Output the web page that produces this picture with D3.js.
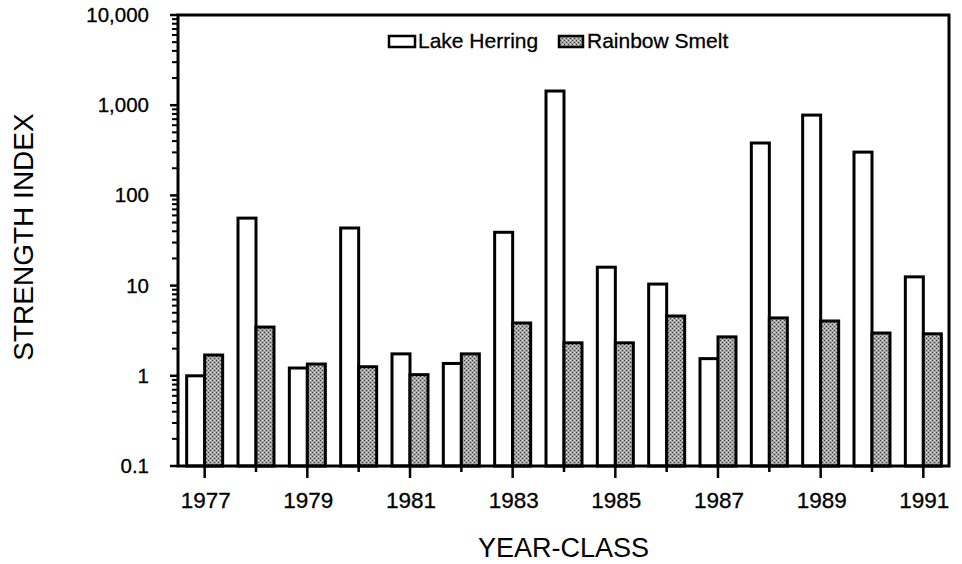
<!DOCTYPE html>
<html><head><meta charset="utf-8">
<script src="https://cdn.jsdelivr.net/npm/d3@7"></script>
<style>body{margin:0;background:#fff}svg{display:block}text{font-family:"Liberation Sans",Arial,Helvetica,sans-serif;fill:#000}</style>
</head><body><svg id="c" width="962" height="564"></svg>
<script>
const years = [1977,1978,1979,1980,1981,1982,1983,1984,1985,1986,1987,1988,1989,1990,1991];
const lakeHerring = [1.0,56,1.22,43.5,1.75,1.37,39,1436,16,10.4,1.55,381,777,302,12.5];
const rainbowSmelt = [1.7,3.47,1.35,1.26,1.03,1.75,3.85,2.32,2.32,4.6,2.7,4.38,4.05,2.98,2.92];
const seriesNames = ["Lake Herring","Rainbow Smelt"];
const yTickValues = [0.1,1,10,100,1000,10000];
const yTickLabels = ["0.1","1","10","100","1,000","10,000"];
const xLabelYears = [1977,1979,1981,1983,1985,1987,1989,1991];

const svg = d3.select("#c");
const L=178, R=949, T=15, B=466;
const x = d3.scaleBand().domain(years).range([L+1, R]).padding(0);
const y = d3.scaleLog().domain([0.1,10000]).range([B,T]);

// stipple pattern for smelt
const defs = svg.append("defs");
const pat = defs.append("pattern").attr("id","stip").attr("width",4).attr("height",4).attr("patternUnits","userSpaceOnUse");
pat.append("rect").attr("width",4).attr("height",4).attr("fill","#a4a4a4");
pat.append("rect").attr("x",0).attr("y",0).attr("width",1).attr("height",1).attr("fill","#3a3a3a");
pat.append("rect").attr("x",2).attr("y",2).attr("width",1).attr("height",1).attr("fill","#3a3a3a");
pat.append("rect").attr("x",2).attr("y",0).attr("width",1).attr("height",1).attr("fill","#e6e6e6");
pat.append("rect").attr("x",0).attr("y",2).attr("width",1).attr("height",1).attr("fill","#d0d0d0");

const bw = 18;
const g = svg.append("g");
g.selectAll("rect.h").data(years).join("rect").attr("class","h")
  .attr("x", d => x(d)+x.bandwidth()/2 - bw)
  .attr("y", (d,i) => y(lakeHerring[i]))
  .attr("width", bw)
  .attr("height", (d,i) => B - y(lakeHerring[i]))
  .attr("fill","#fff").attr("stroke","#000").attr("stroke-width",3);
g.selectAll("rect.s").data(years).join("rect").attr("class","s")
  .attr("x", d => x(d)+x.bandwidth()/2)
  .attr("y", (d,i) => y(rainbowSmelt[i]))
  .attr("width", bw)
  .attr("height", (d,i) => B - y(rainbowSmelt[i]))
  .attr("fill","url(#stip)").attr("stroke","#000").attr("stroke-width",3);

// frame
svg.append("rect").attr("x",L).attr("y",T).attr("width",R-L).attr("height",B-T)
  .attr("fill","none").attr("stroke","#000").attr("stroke-width",3);

// y axis ticks (minor + major)
const minor = [];
for (let e=-1;e<4;e++) for (let m=2;m<=9;m++) minor.push(m*Math.pow(10,e));
svg.append("g").selectAll("line").data(minor).join("line")
  .attr("x1",L-6).attr("x2",L).attr("y1",d=>y(d)).attr("y2",d=>y(d))
  .attr("stroke","#000").attr("stroke-width",2);
svg.append("g").selectAll("line").data(yTickValues).join("line")
  .attr("x1",L-8).attr("x2",L).attr("y1",d=>y(d)).attr("y2",d=>y(d))
  .attr("stroke","#000").attr("stroke-width",2.5);
svg.append("g").selectAll("text").data(yTickValues).join("text")
  .attr("x",149).attr("y",d=>y(d)+7).attr("text-anchor","end")
  .attr("font-size",20.5).attr("stroke","#000").attr("stroke-width",0.3).text((d,i)=>yTickLabels[i]);

// x axis ticks
svg.append("g").selectAll("line").data(years).join("line")
  .attr("x1",d=>x(d)+x.bandwidth()/2).attr("x2",d=>x(d)+x.bandwidth()/2)
  .attr("y1",B).attr("y2",d=> xLabelYears.includes(d) ? B+12 : B+6)
  .attr("stroke","#000").attr("stroke-width",2.5);
svg.append("g").selectAll("text").data(xLabelYears).join("text")
  .attr("x",d=>x(d)+x.bandwidth()/2+1).attr("y",508).attr("text-anchor","middle")
  .attr("font-size",22.5).attr("stroke","#000").attr("stroke-width",0.3).text(d=>d);

// axis titles
svg.append("text").attr("x",(L+R)/2).attr("y",557).attr("text-anchor","middle")
  .attr("font-size",27).text("YEAR-CLASS");
svg.append("text").attr("transform","translate(33,237) rotate(-90)").attr("text-anchor","middle")
  .attr("font-size",28).text("STRENGTH INDEX");

// legend
const lg = svg.append("g");
lg.append("rect").attr("x",389).attr("y",36).attr("width",26).attr("height",11)
  .attr("fill","#fff").attr("stroke","#000").attr("stroke-width",2.5);
lg.append("text").attr("x",418).attr("y",48).attr("font-size",21).attr("stroke","#000").attr("stroke-width",0.3).text(seriesNames[0]);
lg.append("rect").attr("x",559).attr("y",36).attr("width",24).attr("height",11)
  .attr("fill","url(#stip)").attr("stroke","#000").attr("stroke-width",2.5);
lg.append("text").attr("x",587).attr("y",48).attr("font-size",21).attr("stroke","#000").attr("stroke-width",0.3).text(seriesNames[1]);
</script></body></html>
